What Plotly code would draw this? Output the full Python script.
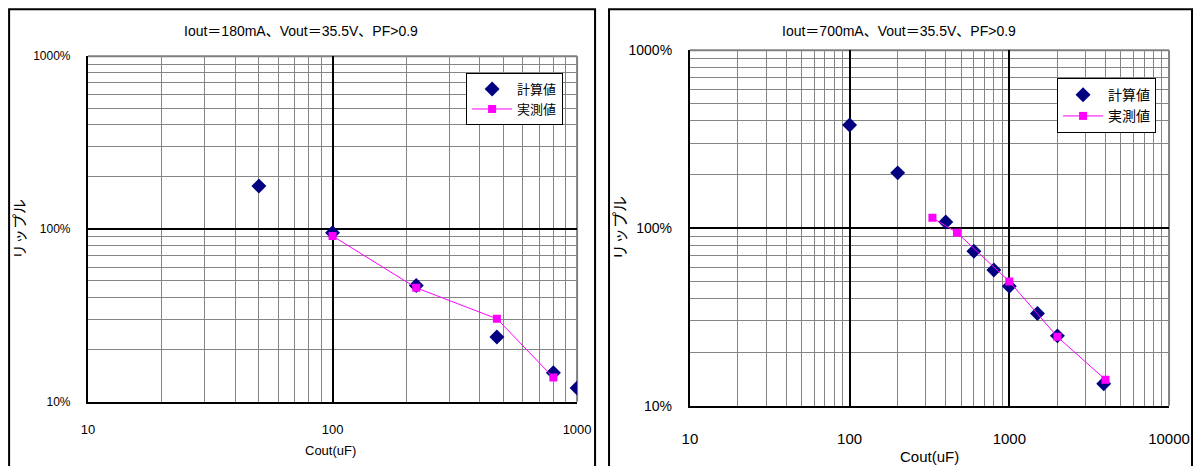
import plotly.graph_objects as go

# ---------------- data ----------------
# Left chart: Iout=180mA
left_calc_x = [50, 100, 220, 470, 800, 1000]
left_calc_y = [177, 95, 47, 23.7, 14.7, 12.0]
left_meas_x = [100, 220, 470, 800]
left_meas_y = [91, 45.6, 30.2, 13.8]

# Right chart: Iout=700mA
right_calc_x = [100, 200, 400, 600, 800, 1000, 1500, 2000, 3900]
right_calc_y = [379, 204, 108, 74, 58, 47, 33, 24.7, 13.3]
right_meas_x = [330, 470, 1000, 2000, 4000]
right_meas_y = [114, 94, 50, 24.4, 14.0]

left_title = "Iout＝180mA、Vout＝35.5V、PF>0.9"
right_title = "Iout＝700mA、Vout＝35.5V、PF>0.9"
series_names = ["計算値", "実測値"]
x_title = "Cout(uF)"
y_title = "リップル"
y_tickvals = [10, 100, 1000]
y_ticktext = ["10%", "100%", "1000%"]
left_x_tickvals = [10, 100, 1000]
right_x_tickvals = [10, 100, 1000, 10000]

# ---------------- styling ----------------
W, H = 1222, 481
SX, OX, SY, OY = 0.978, 6.9, 0.968, 6.8   # empirical capture mapping compensation
FONT = "Liberation Sans, Noto Sans CJK JP, sans-serif"
NAVY = "#000080"
MAGENTA = "#FF00FF"
GRID_MINOR = "#858585"


def px_x(p):
    return ((p - OX) / SX) / W


def px_y(p):
    return 1 - ((p - OY) / SY) / H


fig = go.Figure()

fig.add_trace(go.Scatter(x=left_calc_x, y=left_calc_y, mode="markers", name=series_names[0],
                         marker=dict(symbol="diamond", size=11.5, color=NAVY),
                         xaxis="x", yaxis="y", legend="legend"))
fig.add_trace(go.Scatter(x=left_meas_x, y=left_meas_y, mode="lines+markers", name=series_names[1],
                         marker=dict(symbol="square", size=8, color=MAGENTA),
                         line=dict(color=MAGENTA, width=1),
                         xaxis="x", yaxis="y", legend="legend"))
fig.add_trace(go.Scatter(x=right_calc_x, y=right_calc_y, mode="markers", name=series_names[0],
                         marker=dict(symbol="diamond", size=11.5, color=NAVY),
                         xaxis="x2", yaxis="y2", legend="legend2"))
fig.add_trace(go.Scatter(x=right_meas_x, y=right_meas_y, mode="lines+markers", name=series_names[1],
                         marker=dict(symbol="square", size=8, color=MAGENTA),
                         line=dict(color=MAGENTA, width=1),
                         xaxis="x2", yaxis="y2", legend="legend2"))


def axis(domain, rng, tickvals, ticktext, fontsize, standoff, anchor):
    return dict(
        type="log", domain=domain, range=rng, anchor=anchor,
        tickmode="array", tickvals=tickvals, ticktext=ticktext,
        tickfont=dict(size=fontsize, color="black", family=FONT),
        ticks="", ticklabelstandoff=standoff,
        showgrid=True, gridcolor="black", gridwidth=1.5,
        minor=dict(dtick="D1", showgrid=True, gridcolor=GRID_MINOR, gridwidth=1, ticks=""),
        showline=True, linecolor="black", linewidth=2,
        zeroline=False, fixedrange=True,
    )


fig.update_layout(
    width=W, height=H,
    margin=dict(l=0, r=0, t=0, b=0),
    paper_bgcolor="white", plot_bgcolor="white",
    font=dict(family=FONT, color="black"),
    xaxis=axis([px_x(87), px_x(577)], [1, 3], left_x_tickvals,
               [str(v) for v in left_x_tickvals], 13, 15, "y"),
    yaxis=axis([px_y(401), px_y(55)], [1, 3], y_tickvals, y_ticktext, 12, 13, "x"),
    xaxis2=axis([px_x(690), px_x(1170)], [1, 4], right_x_tickvals,
                [str(v) for v in right_x_tickvals], 15, 18, "y2"),
    yaxis2=axis([px_y(405), px_y(49)], [1, 3], y_tickvals, y_ticktext, 14, 13, "x2"),
    legend=dict(x=px_x(563), y=px_y(72), xanchor="right", yanchor="top",
                bgcolor="white", bordercolor="black", borderwidth=1,
                font=dict(size=13, family=FONT), itemwidth=40, tracegroupgap=0),
    legend2=dict(x=px_x(1157), y=px_y(77), xanchor="right", yanchor="top",
                 bgcolor="white", bordercolor="black", borderwidth=1,
                 font=dict(size=14, family=FONT), itemwidth=40, tracegroupgap=0),
    showlegend=True,
)

shapes = []
for xr, yr in (("x domain", "y domain"), ("x2 domain", "y2 domain")):
    shapes.append(dict(type="line", xref=xr, yref=yr, x0=0, x1=1, y0=1, y1=1,
                       line=dict(color="#808080", width=2), layer="below"))
    shapes.append(dict(type="line", xref=xr, yref=yr, x0=1, x1=1, y0=0, y1=1,
                       line=dict(color="#808080", width=2), layer="below"))
for x0, x1 in ((8, 595), (609, 1193)):
    shapes.append(dict(type="rect", xref="paper", yref="paper",
                       x0=px_x(x0), x1=px_x(x1), y0=-0.05, y1=px_y(8),
                       line=dict(color="black", width=2), fillcolor="rgba(0,0,0,0)"))
fig.update_layout(shapes=shapes)

annotations = [
    dict(text=left_title, x=px_x(300), y=px_y(30), font=dict(size=14)),
    dict(text=right_title, x=px_x(899), y=px_y(30), font=dict(size=14)),
    dict(text=x_title, x=px_x(330), y=px_y(450), font=dict(size=13)),
    dict(text=x_title, x=px_x(930), y=px_y(456), font=dict(size=15)),
    dict(text=y_title, x=px_x(19), y=px_y(228), font=dict(size=15), textangle=-90),
    dict(text=y_title, x=px_x(621), y=px_y(227), font=dict(size=16), textangle=-90),
]
for a in annotations:
    a.update(xref="paper", yref="paper", showarrow=False, xanchor="center", yanchor="middle")
fig.update_layout(annotations=annotations)

fig.write_html("out.html", config={"displayModeBar": False},
               post_script="document.body.style.margin='0px';document.body.style.overflow='hidden';")
